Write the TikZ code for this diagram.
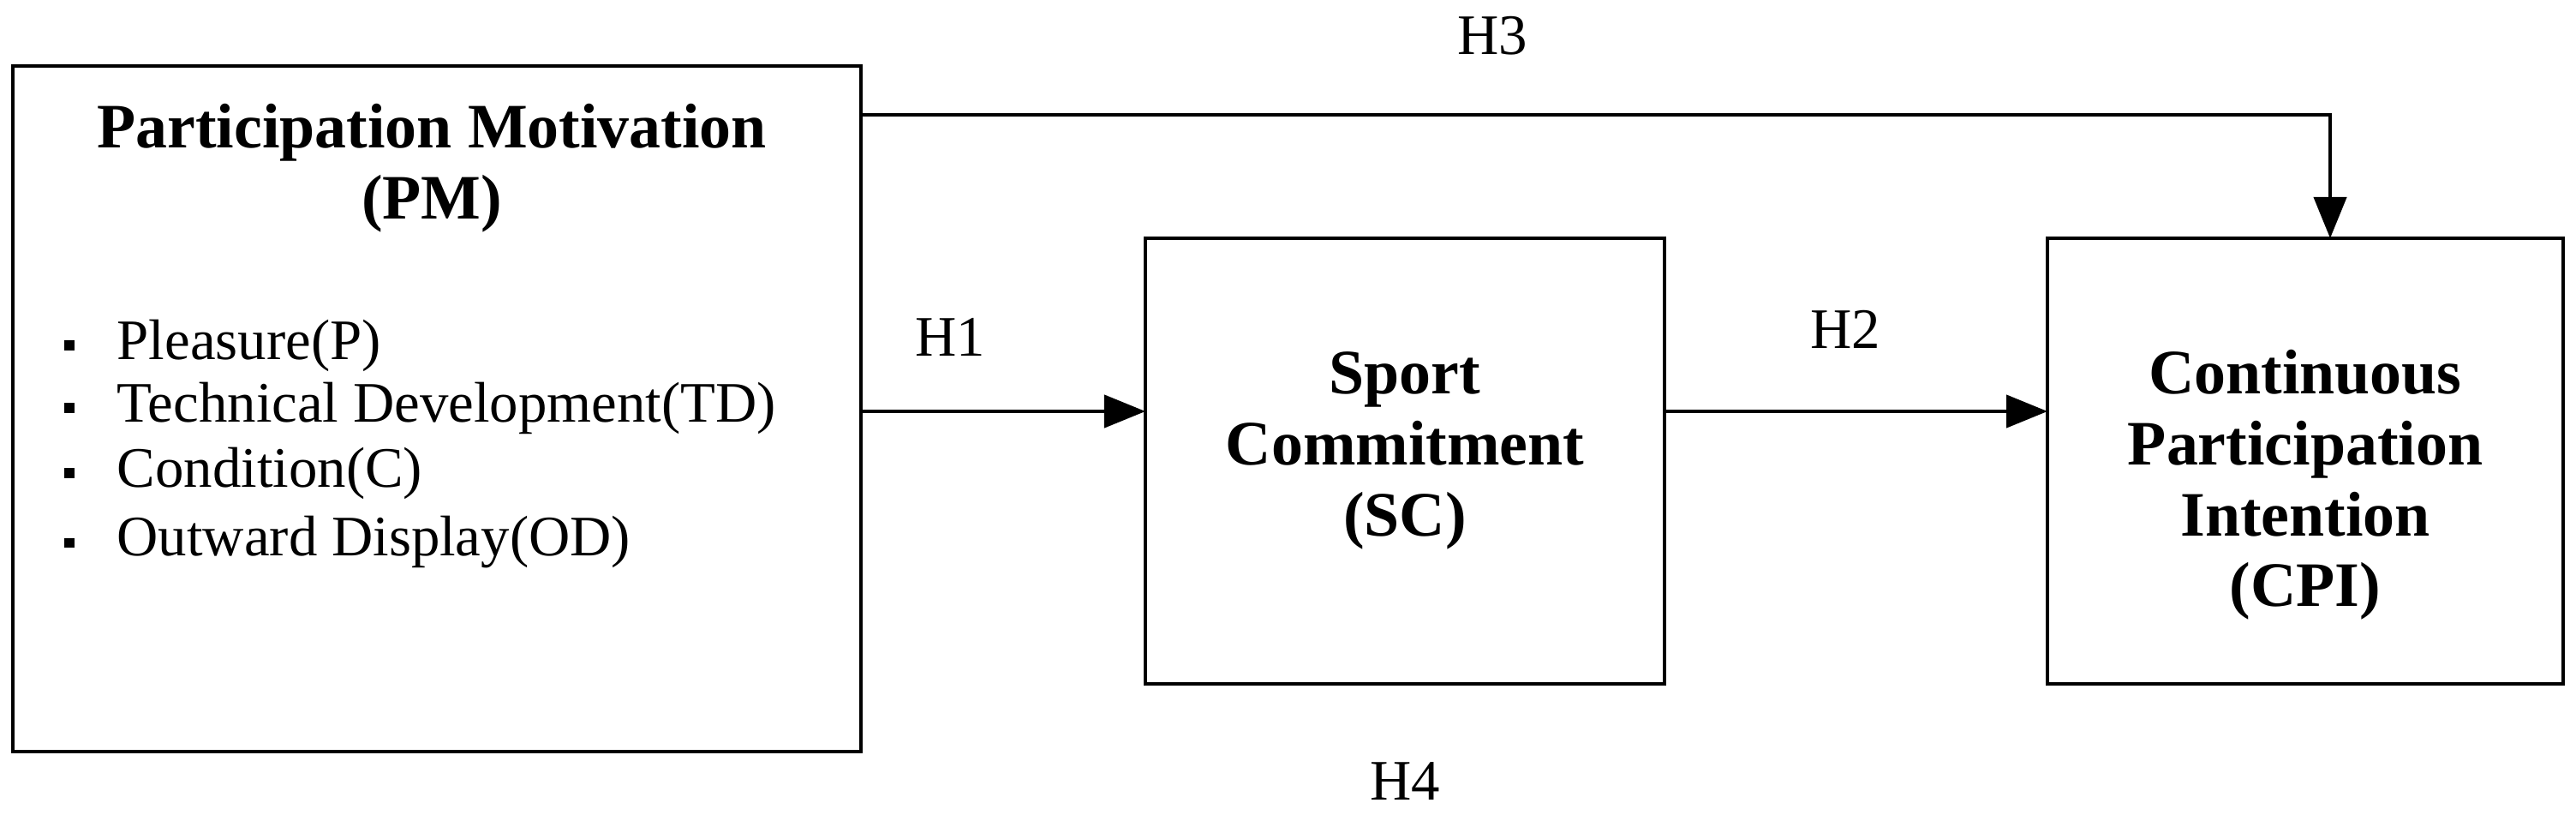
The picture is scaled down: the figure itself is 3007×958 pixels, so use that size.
\documentclass[tikz,border=0pt]{standalone}
\usepackage{fontspec}
\setmainfont{Liberation Serif}
\usetikzlibrary{arrows.meta}
\begin{document}
\begin{tikzpicture}[x=0.01cm,y=-0.01cm,
  boxst/.style={draw,line width=1.2pt},
  txt/.style={font=\fontsize{19}{23}\selectfont,inner sep=0pt},
  ttl/.style={font=\fontsize{21}{23.5}\selectfont\bfseries,inner sep=0pt,align=center},
  arr/.style={line width=1.2pt,-{Triangle[length=0.48cm,width=0.38cm]}},
  bul/.style={fill,minimum size=0.11cm,inner sep=0pt}]
\useasboundingbox (0,0) rectangle (3007,958);
\node[boxst,minimum width=9.9cm,minimum height=8cm] (pm) at (510,477) {};
\node[boxst,minimum width=6.06cm,minimum height=5.2cm] (sc) at (1640,538) {};
\node[boxst,minimum width=6.02cm,minimum height=5.2cm] (cpi) at (2691,538) {};
\node[ttl] (pmt) at (504,196) {Participation Motivation\\(PM)};
\foreach \y/\t/\n in {403/Pleasure(P)/a,476/Technical Development(TD)/b,552/Condition(C)/c,633/Outward Display(OD)/d}{
  \node[bul] (b\n) at (81,\y) {};
  \node[txt,anchor=west] (t\n) at (136,\y) {\t};
}
\node[ttl] (sct) at (1640,526) {Sport\\Commitment\\(SC)};
\node[ttl] (cpit) at (2691,566) {Continuous\\Participation\\Intention\\(CPI)};
\coordinate (h3a) at (1005,134);
\coordinate (h3b) at (2720,134);
\coordinate (h3c) at (2720,278);
\draw[arr] (h3a) -- (h3b) -- (h3c);
\coordinate (h1a) at (1005,480);
\coordinate (h1b) at (1337,480);
\coordinate (h2a) at (1943,480);
\coordinate (h2b) at (2390,480);
\draw[arr] (h1a) -- (h1b);
\draw[arr] (h2a) -- (h2b);
\node[txt] (H3) at (1742,42) {H3};
\node[txt] (H1) at (1109,393) {H1};
\node[txt] (H2) at (2154,384) {H2};
\node[txt] (H4) at (1640,911) {H4};
\end{tikzpicture}
\end{document}
